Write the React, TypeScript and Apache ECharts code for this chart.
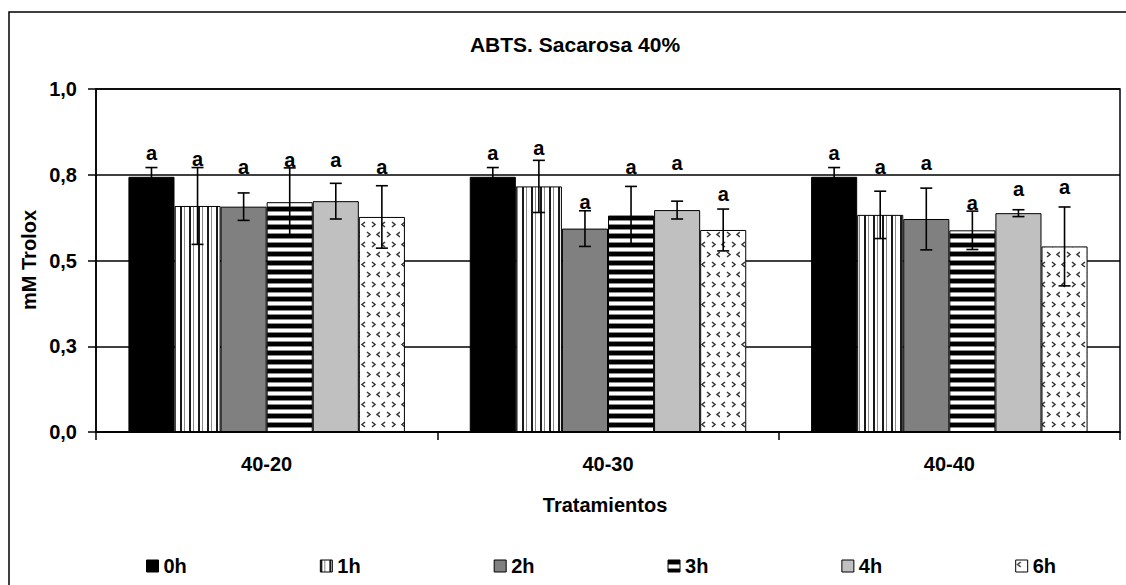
import React, { useEffect, useRef } from "react";
import * as echarts from "echarts";

const categories = ["40-20", "40-30", "40-40"];
const seriesNames = ["0h", "1h", "2h", "3h", "4h", "6h"];

// mean values (mM Trolox)
const v0h = [0.744, 0.744, 0.744];
const v1h = [0.659, 0.716, 0.633];
const v2h = [0.657, 0.593, 0.621];
const v3h = [0.670, 0.631, 0.588];
const v4h = [0.673, 0.647, 0.638];
const v6h = [0.627, 0.589, 0.541];

// error (half-length of error bars)
const e0h = [0.027, 0.027, 0.027];
const e1h = [0.112, 0.076, 0.069];
const e2h = [0.040, 0.052, 0.090];
const e3h = [0.100, 0.085, 0.056];
const e4h = [0.052, 0.026, 0.010];
const e6h = [0.091, 0.061, 0.115];

// significance letters and the height (in data units) where they are written
const letter = "a";
const l0h = [0.809, 0.808, 0.808];
const l1h = [0.790, 0.822, 0.767];
const l2h = [0.767, 0.665, 0.778];
const l3h = [0.786, 0.767, 0.662];
const l4h = [0.786, 0.778, 0.703];
const l6h = [0.767, 0.688, 0.708];

const yTickLabels = ["0,0", "0,3", "0,5", "0,8", "1,0"];
const yInterval = 0.25;

const title = "ABTS. Sacarosa 40%";
const yName = "mM Trolox";
const xName = "Tratamientos";

const FONT = '"Liberation Sans", Arial, sans-serif';

function makePattern(w: number, h: number, draw: (ctx: CanvasRenderingContext2D) => void) {
  const c = document.createElement("canvas");
  c.width = w;
  c.height = h;
  const ctx = c.getContext("2d") as CanvasRenderingContext2D;
  ctx.fillStyle = "#ffffff";
  ctx.fillRect(0, 0, w, h);
  draw(ctx);
  return { image: c.toDataURL(), repeat: "repeat", imageWidth: w, imageHeight: h };
}

export default function App() {
  const ref = useRef<HTMLDivElement>(null);

  useEffect(() => {
    if (!ref.current) return;
    const chart = echarts.init(ref.current, undefined, { renderer: "svg" });

    const vStripes = makePattern(9, 9, (ctx) => {
      ctx.fillStyle = "#1a1a1a";
      ctx.fillRect(0, 0, 2, 9);
      ctx.fillStyle = "#8a8a8a";
      ctx.fillRect(4, 0, 1, 9);
    });
    const hStripes = makePattern(9, 9, (ctx) => {
      ctx.fillStyle = "#000000";
      ctx.fillRect(0, 0, 9, 4);
      ctx.fillStyle = "#8a8a8a";
      ctx.fillRect(0, 4, 9, 1);
      ctx.fillRect(0, 8, 9, 1);
    });
    const chevrons = makePattern(20, 20, (ctx) => {
      ctx.strokeStyle = "#3a3a3a";
      ctx.lineWidth = 1.6;
      const lt = (x: number, y: number) => {
        ctx.beginPath();
        ctx.moveTo(x + 3, y);
        ctx.lineTo(x, y + 2.5);
        ctx.lineTo(x + 3, y + 5);
        ctx.stroke();
      };
      const gt = (x: number, y: number) => {
        ctx.beginPath();
        ctx.moveTo(x, y);
        ctx.lineTo(x + 3, y + 2.5);
        ctx.lineTo(x, y + 5);
        ctx.stroke();
      };
      lt(2, 2);
      gt(12, 2);
      gt(7, 12);
      lt(17, 12);
    });

    const fills: any[] = ["#000000", vStripes, "#808080", hStripes, "#c0c0c0", chevrons];
    const values = [v0h, v1h, v2h, v3h, v4h, v6h];
    const errors = [e0h, e1h, e2h, e3h, e4h, e6h];
    const letterY = [l0h, l1h, l2h, l3h, l4h, l6h];

    const catGap = 0.19;

    const errData: number[][] = [];
    for (let s = 0; s < seriesNames.length; s++) {
      for (let g = 0; g < categories.length; g++) {
        errData.push([g, s, values[s][g] - errors[s][g], values[s][g] + errors[s][g], letterY[s][g]]);
      }
    }

    const barSeries = seriesNames.map((name, s) => ({
      name,
      type: "bar",
      data: values[s],
      barGap: "0%",
      barCategoryGap: "19%",
      itemStyle: { color: fills[s], borderColor: "#000", borderWidth: 1 },
      z: 2,
    }));

    const option: any = {
      animation: false,
      backgroundColor: "#ffffff",
      grid: {
        left: 96,
        right: 6,
        top: 89,
        bottom: 153,
        show: true,
        borderColor: "#000",
        borderWidth: 1.5,
      },
      xAxis: {
        type: "category",
        data: categories,
        axisLine: { lineStyle: { color: "#000", width: 1.5 } },
        axisTick: { show: true, length: 8, lineStyle: { color: "#000", width: 1.5 } },
        axisLabel: {
          color: "#000",
          fontFamily: FONT,
          fontWeight: "bold",
          fontSize: 20,
          margin: 22,
        },
        splitLine: { show: false },
      },
      yAxis: {
        type: "value",
        min: 0,
        max: 1,
        interval: yInterval,
        axisLine: { show: true, lineStyle: { color: "#000", width: 1.5 } },
        axisTick: { show: true, length: 8, lineStyle: { color: "#000", width: 1.5 } },
        axisLabel: {
          color: "#000",
          fontFamily: FONT,
          fontWeight: "bold",
          fontSize: 20,
          margin: 19,
          formatter: (v: number) => yTickLabels[Math.round(v / yInterval)],
        },
        splitLine: { show: true, lineStyle: { color: "#000", width: 1.5 } },
      },
      legend: {
        data: seriesNames,
        left: 146,
        top: 556,
        padding: 0,
        icon: "rect",
        itemWidth: 12,
        itemHeight: 12,
        itemGap: 133,
        itemStyle: { borderColor: "#000", borderWidth: 1 },
        textStyle: { color: "#000", fontFamily: FONT, fontWeight: "bold", fontSize: 20 },
      },
      graphic: [
        {
          type: "rect",
          z: -10,
          shape: { x: 9, y: 12, width: 1200, height: 700 },
          style: { fill: "none", stroke: "#000", lineWidth: 1.5 },
          silent: true,
        },
        {
          type: "text",
          x: 575,
          y: 44,
          style: {
            text: title,
            fill: "#000",
            fontFamily: FONT,
            fontWeight: "bold",
            fontSize: 21,
            align: "center",
            verticalAlign: "middle",
          },
        },
        {
          type: "text",
          x: 29,
          y: 260,
          rotation: Math.PI / 2,
          style: {
            text: yName,
            fill: "#000",
            fontFamily: FONT,
            fontWeight: "bold",
            fontSize: 20,
            align: "center",
            verticalAlign: "middle",
          },
        },
        {
          type: "text",
          x: 605,
          y: 505,
          style: {
            text: xName,
            fill: "#000",
            fontFamily: FONT,
            fontWeight: "bold",
            fontSize: 20,
            align: "center",
            verticalAlign: "middle",
          },
        },
      ],
      series: [
        ...barSeries,
        {
          name: "errores",
          type: "custom",
          z: 10,
          data: errData,
          encode: { x: 0, y: [2, 3, 4] },
          renderItem: (params: any, api: any) => {
            const g = api.value(0);
            const s = api.value(1);
            const low = api.value(2);
            const high = api.value(3);
            const lab = api.value(4);
            const catW = api.size([1, 0])[0];
            const bw = (catW * (1 - catGap)) / seriesNames.length;
            const cx = api.coord([g, 0])[0] + (s - (seriesNames.length - 1) / 2) * bw;
            const yLow = api.coord([g, low])[1];
            const yHigh = api.coord([g, high])[1];
            const yLab = api.coord([g, lab])[1];
            const cap = 6;
            const st = { stroke: "#000", lineWidth: 1.6 };
            return {
              type: "group",
              children: [
                { type: "line", shape: { x1: cx, y1: yLow, x2: cx, y2: yHigh }, style: st },
                { type: "line", shape: { x1: cx - cap, y1: yHigh, x2: cx + cap, y2: yHigh }, style: st },
                { type: "line", shape: { x1: cx - cap, y1: yLow, x2: cx + cap, y2: yLow }, style: st },
                {
                  type: "text",
                  x: cx,
                  y: yLab - 2,
                  style: {
                    text: letter,
                    fill: "#000",
                    fontFamily: FONT,
                    fontWeight: "bold",
                    fontSize: 20,
                    align: "center",
                    verticalAlign: "middle",
                  },
                },
              ],
            };
          },
        },
      ],
    };

    chart.setOption(option);
    return () => {
      chart.dispose();
    };
  }, []);

  return (
    <div
      ref={ref}
      style={{ position: "fixed", left: 0, top: 0, width: 1126, height: 585, background: "#fff" }}
    />
  );
}
